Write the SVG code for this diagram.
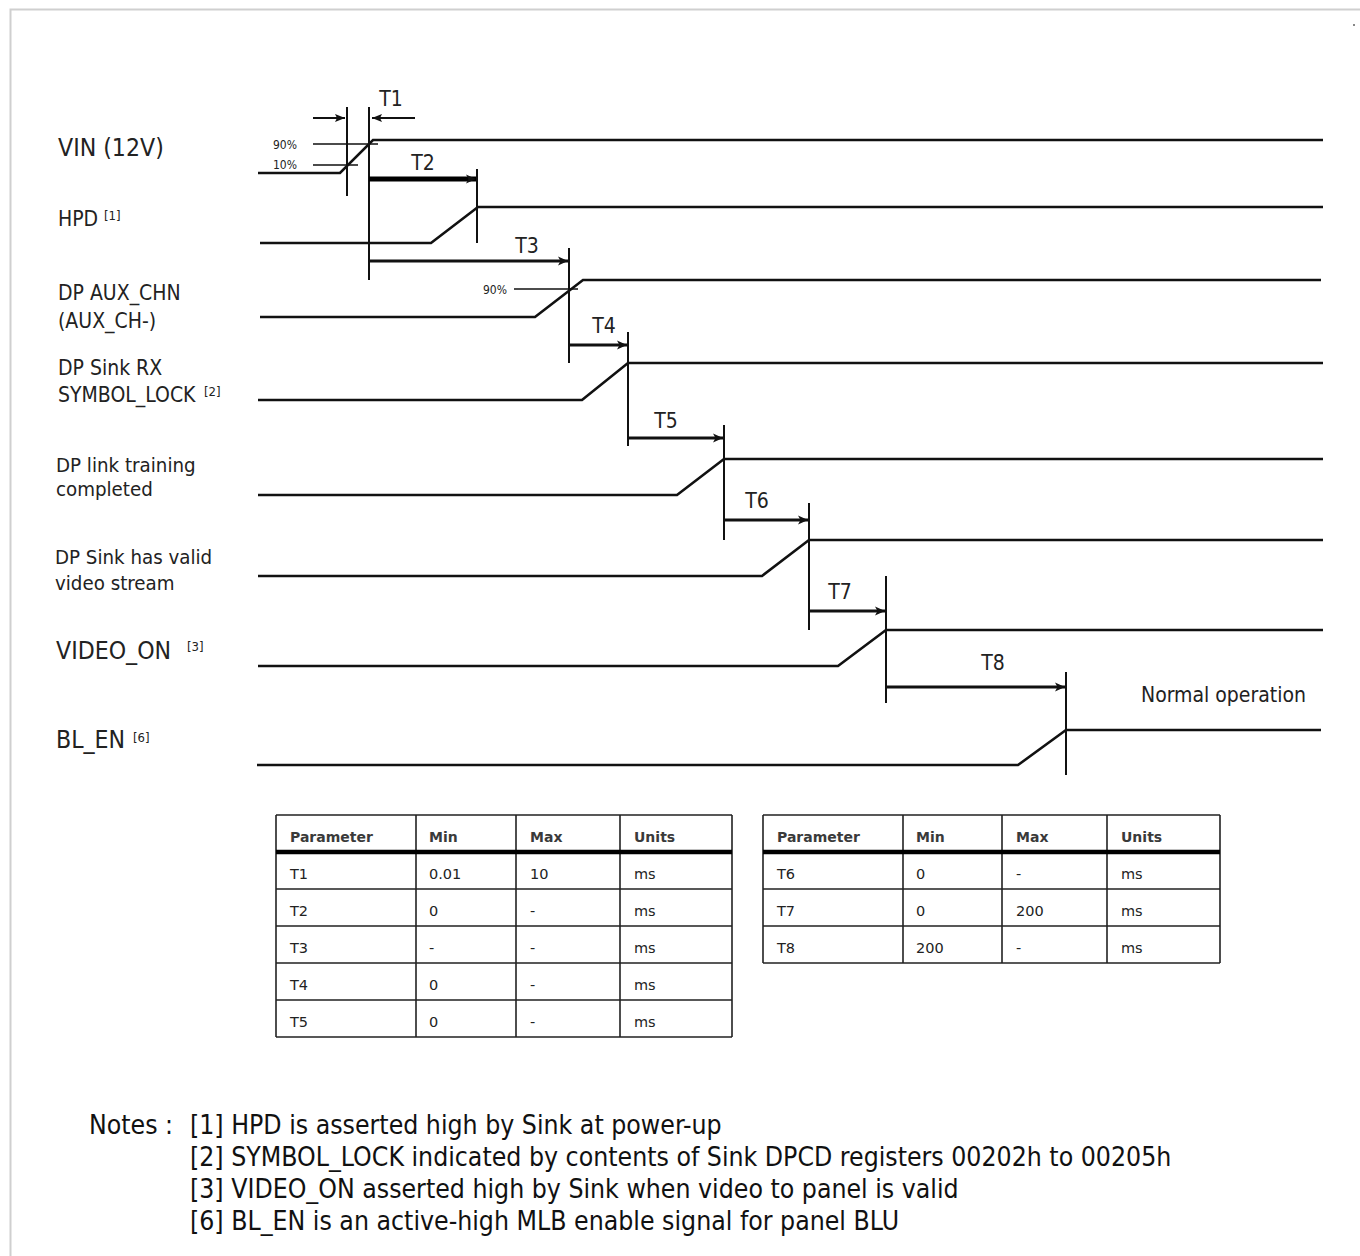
<svg xmlns="http://www.w3.org/2000/svg" width="1360" height="1256" viewBox="0 0 1360 1256">
<defs>
<style>
.bg{fill:#ffffff}
.frame{fill:none;stroke:#cfcfcf;stroke-width:2}
.sig{fill:none;stroke:#111;stroke-width:2.6;stroke-linejoin:miter}
.mark{fill:none;stroke:#111;stroke-width:2}
.tick{fill:none;stroke:#111;stroke-width:1.3}
.arr{fill:none;stroke:#111;stroke-width:3.2}
.arr2{fill:none;stroke:#000;stroke-width:5}
.arr1{fill:none;stroke:#111;stroke-width:2}
.lbl{font-family:"DejaVu Sans Condensed","DejaVu Sans",sans-serif;font-stretch:condensed;fill:#222;font-size:21px}
.mid{font-size:20.3px}
.big{font-size:24.6px}
.sup{font-size:13px}
.pct{font-family:"DejaVu Sans Condensed","DejaVu Sans",sans-serif;font-stretch:condensed;fill:#222;font-size:12px}
.tl{font-family:"DejaVu Sans Condensed","DejaVu Sans",sans-serif;font-stretch:condensed;fill:#222;font-size:21px;text-anchor:middle}
.cell{fill:none;stroke:#222;stroke-width:1.6}
.thick{fill:none;stroke:#000;stroke-width:4.5}
.th{font-family:"DejaVu Sans",sans-serif;font-weight:bold;font-size:14px;fill:#3a3a3a}
.td{font-family:"DejaVu Sans",sans-serif;font-size:14.5px;fill:#222}
.note{font-family:"DejaVu Sans Condensed","DejaVu Sans",sans-serif;font-stretch:condensed;font-size:26.4px;fill:#111}
</style>
<marker id="ah" markerUnits="userSpaceOnUse" markerWidth="12" markerHeight="10" refX="10" refY="5" orient="auto">
<path d="M0,0.5 L10,5 L0,9.5 L2.5,5 z" fill="#111"/>
</marker>
<marker id="ahs" markerUnits="userSpaceOnUse" markerWidth="12" markerHeight="10" refX="10" refY="5" orient="auto">
<path d="M0,1 L10,5 L0,9 L2,5 z" fill="#111"/>
</marker>
</defs>
<rect class="bg" x="0" y="0" width="1360" height="1256"/>
<path class="frame" d="M10.5,1256 L10.5,9.5 L1360,9.5"/>
<rect x="1353" y="24" width="2" height="2" fill="#888"/>

<g id="sig-vin">
<text class="lbl big" x="58" y="156">VIN (12V)</text>
<path class="sig" d="M258,173 L340,173 L373,140 L1323,140"/>
<path class="tick" d="M313,144 L378,144 M313,165 L358,165"/>
<text class="pct" x="273" y="149">90%</text>
<text class="pct" x="273" y="169">10%</text>
</g>
<g id="sig-hpd">
<text class="lbl" x="58" y="226">HPD<tspan class="sup" x="104" y="220">[1]</tspan></text>
<path class="sig" d="M260,243 L431,243 L478,207 L1323,207"/>
</g>
<g id="sig-aux">
<text class="lbl" x="58" y="300">DP AUX_CHN</text>
<text class="lbl" x="58" y="328">(AUX_CH-)</text>
<path class="sig" d="M260,317 L535,317 L583,280 L1321,280"/>
<path class="tick" d="M514,289 L578,289"/>
<text class="pct" x="483" y="294">90%</text>
</g>
<g id="sig-symlock">
<text class="lbl" x="58" y="375">DP Sink RX</text>
<text class="lbl" x="58" y="402">SYMBOL_LOCK<tspan class="sup" x="204" y="396">[2]</tspan></text>
<path class="sig" d="M258,400 L582,400 L628,363 L1323,363"/>
</g>
<g id="sig-linktrain">
<text class="lbl mid" x="56" y="472">DP link training</text>
<text class="lbl mid" x="56" y="496">completed</text>
<path class="sig" d="M258,495 L677,495 L724,459 L1323,459"/>
</g>
<g id="sig-valid">
<text class="lbl mid" x="55" y="564">DP Sink has valid</text>
<text class="lbl mid" x="55" y="590">video stream</text>
<path class="sig" d="M258,576 L762,576 L809,540 L1323,540"/>
</g>
<g id="sig-videoon">
<text class="lbl big" x="56" y="659">VIDEO_ON<tspan class="sup" x="187" y="651">[3]</tspan></text>
<path class="sig" d="M258,666 L838,666 L886,630 L1323,630"/>
</g>
<g id="sig-blen">
<text class="lbl big" x="56" y="748">BL_EN<tspan class="sup" x="133" y="742">[6]</tspan></text>
<path class="sig" d="M257,765 L1018,765 L1066,730 L1321,730"/>
<text class="lbl" x="1141" y="702" style="font-size:21px">Normal operation</text>
</g>

<g id="connectors">
<path class="mark" d="M347,107 L347,196 M369,107 L369,280 M477,169 L477,243 M569,248 L569,363 M628,332 L628,446 M724,425 L724,540 M809,503 L809,630 M886,576 L886,703 M1066,672 L1066,775"/>
<path class="arr1" d="M313,118 L345,118" marker-end="url(#ahs)"/>
<path class="arr1" d="M415,118 L372,118" marker-end="url(#ahs)"/>
<path class="arr2" d="M369,179 L476,179" marker-end="url(#ah)"/>
<path class="arr" d="M370,261 L568,261" marker-end="url(#ah)"/>
<path class="arr" d="M570,345 L627,345" marker-end="url(#ah)"/>
<path class="arr" d="M628,438 L723,438" marker-end="url(#ah)"/>
<path class="arr" d="M725,520 L808,520" marker-end="url(#ah)"/>
<path class="arr" d="M810,611 L885,611" marker-end="url(#ah)"/>
<path class="arr" d="M886,687 L1065,687" marker-end="url(#ah)"/>
<text class="tl" x="391" y="106">T1</text>
<text class="tl" x="423" y="170">T2</text>
<text class="tl" x="527" y="253">T3</text>
<text class="tl" x="604" y="333">T4</text>
<text class="tl" x="666" y="428">T5</text>
<text class="tl" x="757" y="508">T6</text>
<text class="tl" x="840" y="599">T7</text>
<text class="tl" x="993" y="670">T8</text>
</g>

<g id="table1">
<path class="cell" d="M276,815 L732,815 M276,889 L732,889 M276,926 L732,926 M276,963 L732,963 M276,1000 L732,1000 M276,1037 L732,1037 M276,815 L276,1037 M416,815 L416,1037 M516,815 L516,1037 M620,815 L620,1037 M732,815 L732,1037"/>
<path class="thick" d="M276,852 L732,852"/>
<text class="th" x="290" y="842">Parameter</text><text class="th" x="429" y="842">Min</text><text class="th" x="530" y="842">Max</text><text class="th" x="634" y="842">Units</text>
<text class="td" x="290" y="879">T1</text><text class="td" x="429" y="879">0.01</text><text class="td" x="530" y="879">10</text><text class="td" x="634" y="879">ms</text>
<text class="td" x="290" y="916">T2</text><text class="td" x="429" y="916">0</text><text class="td" x="530" y="916">-</text><text class="td" x="634" y="916">ms</text>
<text class="td" x="290" y="953">T3</text><text class="td" x="429" y="953">-</text><text class="td" x="530" y="953">-</text><text class="td" x="634" y="953">ms</text>
<text class="td" x="290" y="990">T4</text><text class="td" x="429" y="990">0</text><text class="td" x="530" y="990">-</text><text class="td" x="634" y="990">ms</text>
<text class="td" x="290" y="1027">T5</text><text class="td" x="429" y="1027">0</text><text class="td" x="530" y="1027">-</text><text class="td" x="634" y="1027">ms</text>
</g>

<g id="table2">
<path class="cell" d="M763,815 L1220,815 M763,889 L1220,889 M763,926 L1220,926 M763,963 L1220,963 M763,815 L763,963 M903,815 L903,963 M1002,815 L1002,963 M1107,815 L1107,963 M1220,815 L1220,963"/>
<path class="thick" d="M763,852 L1220,852"/>
<text class="th" x="777" y="842">Parameter</text><text class="th" x="916" y="842">Min</text><text class="th" x="1016" y="842">Max</text><text class="th" x="1121" y="842">Units</text>
<text class="td" x="777" y="879">T6</text><text class="td" x="916" y="879">0</text><text class="td" x="1016" y="879">-</text><text class="td" x="1121" y="879">ms</text>
<text class="td" x="777" y="916">T7</text><text class="td" x="916" y="916">0</text><text class="td" x="1016" y="916">200</text><text class="td" x="1121" y="916">ms</text>
<text class="td" x="777" y="953">T8</text><text class="td" x="916" y="953">200</text><text class="td" x="1016" y="953">-</text><text class="td" x="1121" y="953">ms</text>
</g>

<g id="notes">
<text class="note" x="89" y="1134">Notes :</text>
<text class="note" x="190" y="1134">[1] HPD is asserted high by Sink at power-up</text>
<text class="note" x="190" y="1166">[2] SYMBOL_LOCK indicated by contents of Sink DPCD registers 00202h to 00205h</text>
<text class="note" x="190" y="1198">[3] VIDEO_ON asserted high by Sink when video to panel is valid</text>
<text class="note" x="190" y="1230">[6] BL_EN is an active-high MLB enable signal for panel BLU</text>
</g>
</svg>
